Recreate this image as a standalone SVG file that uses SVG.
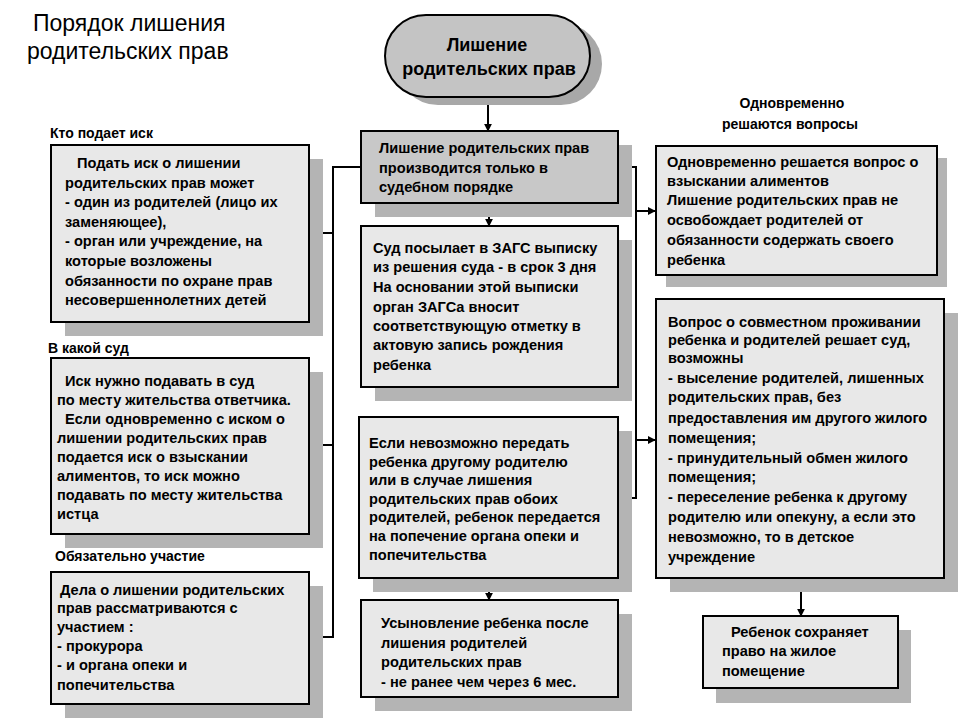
<svg xmlns="http://www.w3.org/2000/svg" width="960" height="720" viewBox="0 0 960 720">
<style>
text{font-family:"Liberation Sans",Arial,sans-serif;fill:#000}
.t{font-size:14.6px;font-weight:bold}
.lbl{font-size:14px;font-weight:bold}
.ov{font-size:18px;font-weight:bold}
.title{font-size:23px}
.box{fill:#e8e8e8;stroke:#000;stroke-width:2}
.dark{fill:#c8c8c8;stroke:#000;stroke-width:2}
.sh{fill:#b4b4b4}
.ln{fill:none;stroke:#000;stroke-width:2}
</style>
<defs>
<marker id="ah" viewBox="0 0 10 10" refX="9" refY="5" markerWidth="4" markerHeight="4" orient="auto" markerUnits="strokeWidth">
<path d="M0,0 L10,5 L0,10 z" fill="#000"/>
</marker>
</defs>
<rect width="960" height="720" fill="#fff"/>

<g id="title">
<text class="title" x="33" y="31">Порядок лишения</text>
<text class="title" x="27" y="59">родительских прав</text>
</g>

<g id="labels">
<text class="lbl" x="50" y="138">Кто подает иск</text>
<text class="lbl" x="48" y="353">В какой суд</text>
<text class="lbl" x="55" y="561">Обязательно участие</text>
<text class="lbl" x="792" y="108" text-anchor="middle">Одновременно</text>
<text class="lbl" x="790" y="129" text-anchor="middle">решаются вопросы</text>
</g>

<g id="connectors">
<path class="ln" d="M488,97 V131" marker-end="url(#ah)"/>
<path class="ln" d="M489,203 V226" marker-end="url(#ah)"/>
<path class="ln" d="M489,578 V600" marker-end="url(#ah)"/>
<path class="ln" d="M801,578 V616" marker-end="url(#ah)"/>
<path class="ln" d="M361,167 H333 V637 H310" marker-end="url(#ah)"/>
<path class="ln" d="M333,233 H310" marker-end="url(#ah)"/>
<path class="ln" d="M333,445 H310" marker-end="url(#ah)"/>
<path class="ln" d="M618,167 H636 V498 H619" marker-end="url(#ah)"/>
<path class="ln" d="M636,211 H655" marker-end="url(#ah)"/>
<path class="ln" d="M636,440 H655" marker-end="url(#ah)"/>
</g>

<g id="n-oval">
<rect x="397" y="23" width="205" height="82" rx="41" fill="#a8a8a8"/>
<rect x="385" y="15" width="205" height="82" rx="41" fill="#c4c4c4" stroke="#000" stroke-width="2"/>
<text class="ov" x="487" y="51" text-anchor="middle">Лишение</text>
<text class="ov" x="489" y="75" text-anchor="middle">родительских прав</text>
</g>

<g id="n-court">
<rect class="sh" x="375" y="145" width="257" height="72"/>
<rect class="dark" x="361" y="131" width="257" height="72"/>
<text class="t" x="379" y="153">Лишение родительских прав</text>
<text class="t" x="379" y="173">производится только в</text>
<text class="t" x="379" y="192">судебном порядке</text>
</g>

<g id="n-zags">
<rect class="sh" x="375" y="240" width="257" height="161"/>
<rect class="box" x="361" y="226" width="257" height="161"/>
<text class="t" x="373" y="253">Суд посылает в ЗАГС выписку</text>
<text class="t" x="373" y="272">из решения суда - в срок 3 дня</text>
<text class="t" x="373" y="292">На основании этой выписки</text>
<text class="t" x="373" y="312">орган ЗАГСа вносит</text>
<text class="t" x="373" y="331">соответствующую отметку в</text>
<text class="t" x="373" y="350">актовую запись рождения</text>
<text class="t" x="373" y="370">ребенка</text>
</g>

<g id="n-guardian">
<rect class="sh" x="373" y="431" width="259" height="161"/>
<rect class="box" x="359" y="417" width="259" height="161"/>
<text class="t" x="369" y="448">Если невозможно передать</text>
<text class="t" x="369" y="467">ребенка другому родителю</text>
<text class="t" x="369" y="485">или в случае лишения</text>
<text class="t" x="369" y="504">родительских прав обоих</text>
<text class="t" x="369" y="522">родителей, ребенок передается</text>
<text class="t" x="369" y="541">на попечение органа опеки и</text>
<text class="t" x="369" y="560">попечительства</text>
</g>

<g id="n-adopt">
<rect class="sh" x="375" y="614" width="257" height="97"/>
<rect class="box" x="361" y="600" width="257" height="97"/>
<text class="t" x="381" y="628">Усыновление ребенка после</text>
<text class="t" x="381" y="648">лишения родителей</text>
<text class="t" x="381" y="667">родительских прав</text>
<text class="t" x="381" y="687">- не ранее чем через 6 мес.</text>
</g>

<g id="n-who">
<rect class="sh" x="65" y="159" width="258" height="177"/>
<rect class="box" x="51" y="145" width="258" height="177"/>
<text class="t" x="77" y="168">Подать иск о лишении</text>
<text class="t" x="65" y="188">родительских прав может</text>
<text class="t" x="65" y="207">- один из родителей (лицо  их</text>
<text class="t" x="65" y="227">заменяющее),</text>
<text class="t" x="65" y="246">- орган или учреждение, на</text>
<text class="t" x="65" y="266">которые возложены</text>
<text class="t" x="65" y="286">обязанности по охране прав</text>
<text class="t" x="65" y="305">несовершеннолетних детей</text>
</g>

<g id="n-where">
<rect class="sh" x="65" y="372" width="258" height="176"/>
<rect class="box" x="51" y="358" width="258" height="176"/>
<text class="t" x="65" y="386">Иск нужно подавать в суд</text>
<text class="t" x="57" y="405">по месту жительства ответчика.</text>
<text class="t" x="65" y="424">Если одновременно с иском о</text>
<text class="t" x="57" y="443">лишении родительских прав</text>
<text class="t" x="57" y="462">подается иск о взыскании</text>
<text class="t" x="57" y="481">алиментов, то иск можно</text>
<text class="t" x="57" y="500">подавать по месту жительства</text>
<text class="t" x="57" y="519">истца</text>
</g>

<g id="n-participation">
<rect class="sh" x="65" y="586" width="258" height="132"/>
<rect class="box" x="51" y="572" width="258" height="132"/>
<text class="t" x="60" y="595">Дела о лишении родительских</text>
<text class="t" x="57" y="613">прав рассматриваются с</text>
<text class="t" x="57" y="632">участием :</text>
<text class="t" x="57" y="651">- прокурора</text>
<text class="t" x="57" y="670">- и органа опеки и</text>
<text class="t" x="57" y="690">попечительства</text>
</g>

<g id="n-alimony">
<rect class="sh" x="666" y="158" width="281" height="129"/>
<rect class="box" x="656" y="146" width="281" height="129"/>
<text class="t" x="667" y="167">Одновременно решается вопрос о</text>
<text class="t" x="667" y="186">взыскании алиментов</text>
<text class="t" x="667" y="205">Лишение родительских прав не</text>
<text class="t" x="667" y="225">освобождает родителей от</text>
<text class="t" x="667" y="245">обязанности содержать своего</text>
<text class="t" x="667" y="265">ребенка</text>
</g>

<g id="n-housing">
<rect class="sh" x="670" y="313" width="288" height="279"/>
<rect class="box" x="656" y="299" width="288" height="279"/>
<text class="t" x="668" y="327">Вопрос о совместном проживании</text>
<text class="t" x="668" y="345">ребенка и родителей решает суд,</text>
<text class="t" x="668" y="363">возможны</text>
<text class="t" x="668" y="383">- выселение родителей, лишенных</text>
<text class="t" x="668" y="402">родительских прав, без</text>
<text class="t" x="668" y="423">предоставления им другого жилого</text>
<text class="t" x="668" y="443">помещения;</text>
<text class="t" x="668" y="463">- принудительный обмен жилого</text>
<text class="t" x="668" y="482">помещения;</text>
<text class="t" x="668" y="502">- переселение ребенка к другому</text>
<text class="t" x="668" y="522">родителю или опекуну, а если это</text>
<text class="t" x="668" y="542">невозможно, то в детское</text>
<text class="t" x="668" y="562">учреждение</text>
</g>

<g id="n-keeps">
<rect class="sh" x="716" y="630" width="195" height="73"/>
<rect class="box" x="703" y="616" width="195" height="72"/>
<text class="t" x="731" y="637">Ребенок сохраняет</text>
<text class="t" x="722" y="656">право на жилое</text>
<text class="t" x="722" y="676">помещение</text>
</g>
</svg>
